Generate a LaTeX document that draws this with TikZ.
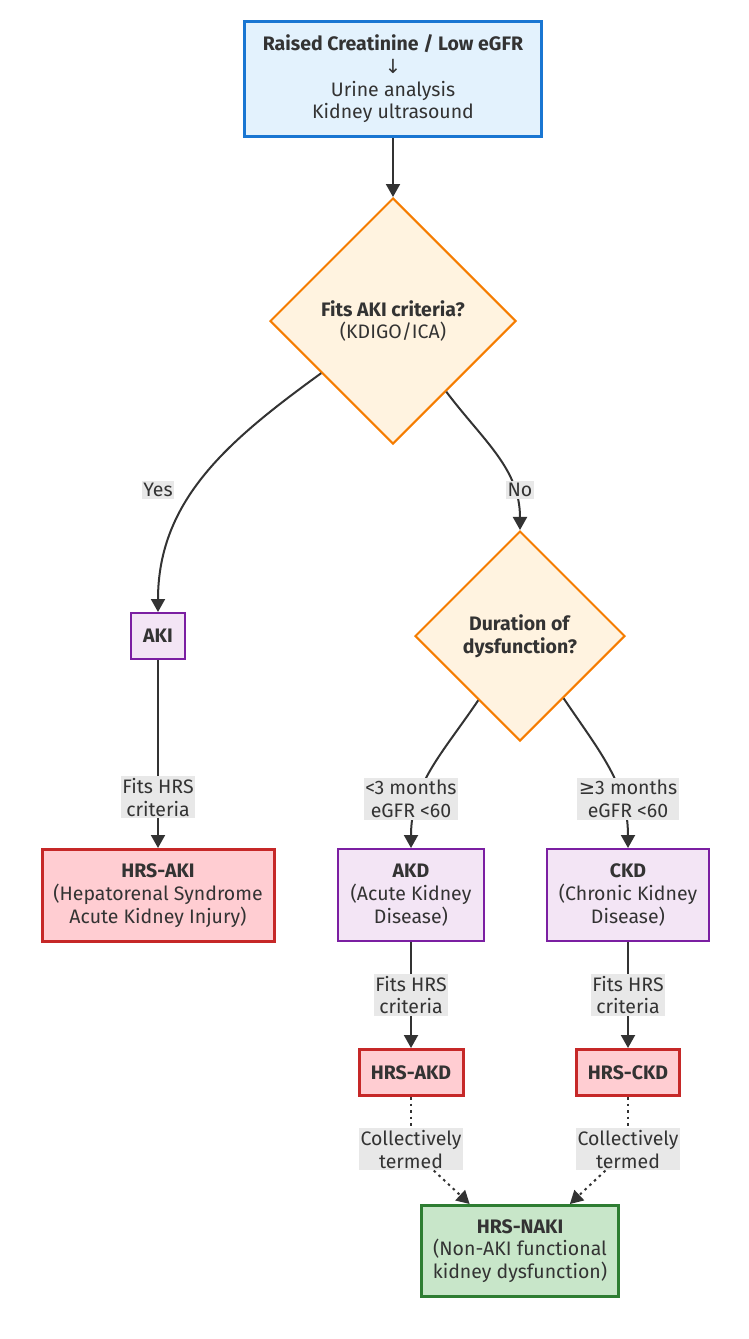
\documentclass[tikz,border=0pt]{standalone}
\usepackage{fontspec}
\setmainfont{Fira Sans}
\newfontfamily\symfont{DejaVu Sans}
\usepackage{tikz}
\usetikzlibrary{shapes,arrows.meta,positioning}

\definecolor{blueline}{HTML}{1976D2}
\definecolor{bluefill}{HTML}{E3F2FD}
\definecolor{orangeline}{HTML}{F57C00}
\definecolor{orangefill}{HTML}{FFF3E0}
\definecolor{purpleline}{HTML}{7B1FA2}
\definecolor{purplefill}{HTML}{F3E5F5}
\definecolor{redline}{HTML}{C62828}
\definecolor{redfill}{HTML}{FFCDD2}
\definecolor{greenline}{HTML}{2E7D32}
\definecolor{greenfill}{HTML}{C8E6C9}
\definecolor{darkgray}{HTML}{333333}
\definecolor{labelbg}{HTML}{E8E8E8}

\begin{document}
\begin{tikzpicture}[
    font=\fontsize{19.5}{22.7}\selectfont,
    text=darkgray,
    >={Triangle[length=13pt,width=14pt]},
    startbox/.style={rectangle, draw=blueline, fill=bluefill, line width=3pt, align=center},
    decision/.style={diamond, aspect=1, draw=orangeline, fill=orangefill, line width=2pt, align=center, inner sep=0pt},
    stage/.style={rectangle, draw=purpleline, fill=purplefill, line width=2pt, align=center},
    hrsbox/.style={rectangle, draw=redline, fill=redfill, line width=3pt, align=center},
    finalbox/.style={rectangle, draw=greenline, fill=greenfill, line width=3pt, align=center},
    lbl/.style={fill=labelbg, align=center, inner xsep=1.5pt, inner ysep=2pt},
    link/.style={draw=darkgray, line width=2pt},
    arr/.style={link, ->},
    dotlink/.style={link, dash pattern=on 2.5pt off 4pt},
    dotarr/.style={dotlink, ->}
]
\useasboundingbox (0,0) rectangle (749pt,-1339pt);

\node[startbox, minimum width=297pt, minimum height=115pt] (creat) at (393pt,-79pt)
    {\textbf{Raised Creatinine / Low eGFR}\\{\symfont ↓}\\Urine analysis\\Kidney ultrasound};
\node[decision, minimum size=246pt] (akicheck) [below=59pt of creat] {\textbf{Fits AKI criteria?}\\(KDIGO/ICA)};
\node[decision, minimum size=210pt] (duration) [below=85pt of akicheck, xshift=127pt] {\textbf{Duration of}\\\textbf{dysfunction?}};
\node[stage, minimum width=54pt, minimum height=46pt] (aki) [left=228pt of duration] {\textbf{AKI}};
\node[hrsbox, minimum width=232pt, minimum height=92pt] (hrsaki) [below=188pt of aki]
    {\textbf{HRS-AKI}\\(Hepatorenal Syndrome\\Acute Kidney Injury)};
\node[stage, minimum width=146pt, minimum height=92pt] (akd) [below=106pt of duration, xshift=-109pt]
    {\textbf{AKD}\\(Acute Kidney\\Disease)};
\node[stage, minimum width=162pt, minimum height=92pt] (ckd) [below=106pt of duration, xshift=108pt]
    {\textbf{CKD}\\(Chronic Kidney\\Disease)};
\node[hrsbox, minimum width=104pt, minimum height=46pt] (hrsakd) [below=106pt of akd] {\textbf{HRS-AKD}};
\node[hrsbox, minimum width=103pt, minimum height=46pt] (hrsckd) [below=106pt of ckd] {\textbf{HRS-CKD}};
\node[finalbox, minimum width=197pt, minimum height=91pt] (naki) [below=107pt of hrsakd, xshift=109pt]
    {\textbf{HRS-NAKI}\\(Non-AKI functional\\kidney dysfunction)};

\draw[arr] (creat) -- (akicheck);
\draw[arr] (akicheck.216) to[out=216, in=90] (aki);
\draw[arr] (akicheck.307) to[out=307, in=90] (duration);
\draw[arr] (aki) -- node[lbl, pos=0.73] {Fits HRS\\criteria} (hrsaki);
\draw[arr] (duration.237) to[out=236, in=90] (akd);
\draw[arr] (duration.305) to[out=304, in=90] (ckd);
\draw[arr] (akd) -- node[lbl] {Fits HRS\\criteria} (hrsakd);
\draw[arr] (ckd) -- node[lbl] {Fits HRS\\criteria} (hrsckd);

% edge labels on the curved links
\node[lbl] (yes) [above=113pt of aki] {Yes};
\node[lbl] (no) [above=31pt of duration] {No};
\node[lbl] (lt3) [above=28pt of akd] {<3 months\\eGFR <60};
\node[lbl] (ge3) [above=28pt of ckd] {{\symfont ≥}3 months\\eGFR <60};
\node[lbl] (coll1) [below=31pt of hrsakd] {Collectively\\termed};
\node[lbl] (coll2) [below=31pt of hrsckd] {Collectively\\termed};

\draw[dotlink] (hrsakd) -- (coll1);
\draw[dotarr] (coll1) -- (naki);
\draw[dotlink] (hrsckd) -- (coll2);
\draw[dotarr] (coll2) -- (naki);
\end{tikzpicture}
\end{document}
